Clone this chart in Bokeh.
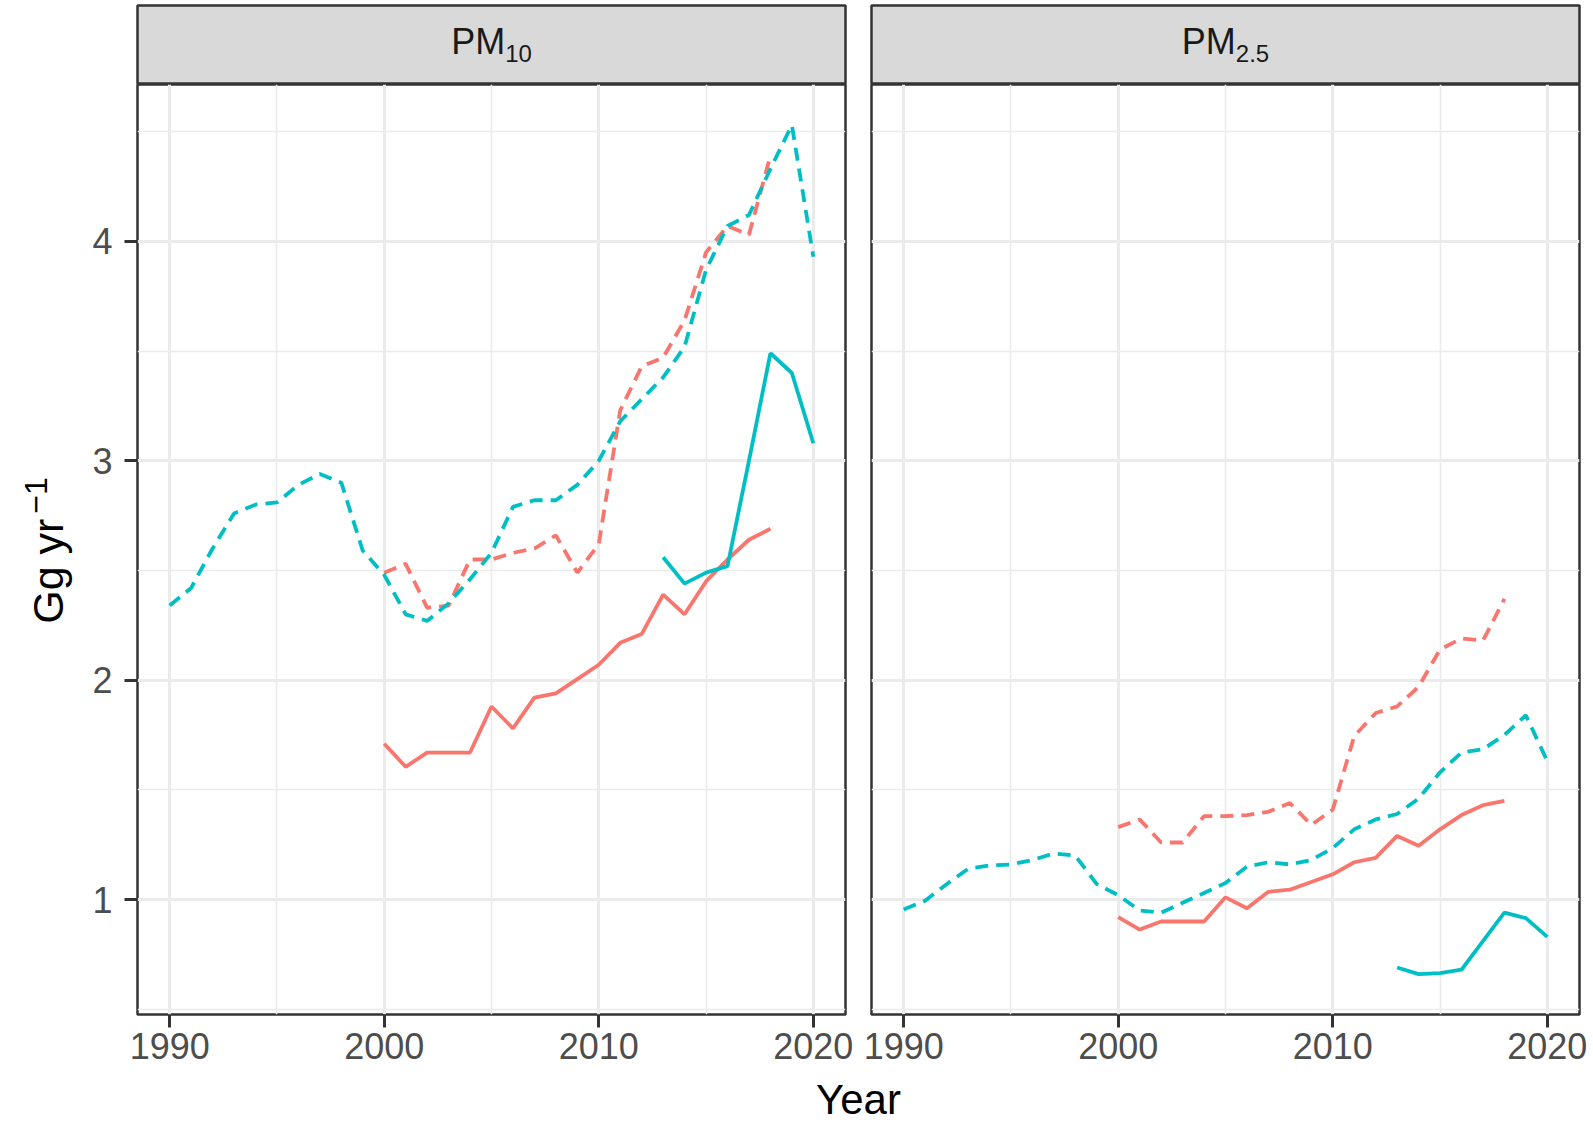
import math
from bokeh.plotting import figure
from bokeh.layouts import row, column
from bokeh.models import Range1d, FixedTicker
from bokeh.embed import file_html
from bokeh.resources import INLINE
from bokeh.core.properties import value

# ---------------- data ----------------
years_full = list(range(1990, 2021))
years_mid = list(range(2000, 2019))
years_late = list(range(2013, 2021))

pm10_teal_dashed = [2.34, 2.42, 2.60, 2.76, 2.80, 2.81, 2.89, 2.94, 2.90, 2.59,
                    2.48, 2.30, 2.27, 2.35, 2.46, 2.58, 2.79, 2.82, 2.82, 2.89,
                    3.00, 3.18, 3.28, 3.38, 3.52, 3.87, 4.07, 4.12, 4.33, 4.53, 3.93]
pm10_red_dashed = [2.49, 2.53, 2.33, 2.34, 2.55, 2.55, 2.58, 2.60, 2.66, 2.49,
                   2.62, 3.23, 3.43, 3.47, 3.64, 3.95, 4.07, 4.03, 4.39]
pm10_red_solid = [1.71, 1.605, 1.67, 1.67, 1.67, 1.88, 1.78, 1.92, 1.94, 2.005,
                  2.07, 2.17, 2.21, 2.39, 2.30, 2.45, 2.55, 2.64, 2.69]
pm10_teal_solid = [2.56, 2.44, 2.49, 2.52, 3.00, 3.49, 3.40, 3.08]

pm25_teal_dashed = [0.955, 0.995, 1.07, 1.14, 1.155, 1.16, 1.18, 1.21, 1.20, 1.07,
                    1.02, 0.95, 0.94, 0.985, 1.03, 1.075, 1.15, 1.17, 1.16, 1.18,
                    1.235, 1.32, 1.365, 1.39, 1.46, 1.58, 1.67, 1.685, 1.75, 1.84, 1.63]
pm25_red_dashed = [1.33, 1.365, 1.26, 1.26, 1.38, 1.38, 1.385, 1.40, 1.44, 1.34,
                   1.41, 1.745, 1.85, 1.88, 1.97, 2.14, 2.19, 2.18, 2.37]
pm25_red_solid = [0.92, 0.863, 0.90, 0.90, 0.90, 1.01, 0.96, 1.035, 1.045, 1.08,
                  1.115, 1.17, 1.19, 1.29, 1.245, 1.32, 1.385, 1.43, 1.45]
pm25_teal_solid = [0.69, 0.66, 0.665, 0.68, 0.81, 0.94, 0.915, 0.83]

x_ticks = [1990, 2000, 2010, 2020]
x_minor = [1995, 2005, 2015]
y_ticks = [1, 2, 3, 4]
y_minor = [0.5, 1.5, 2.5, 3.5, 4.5]

panels = [
    ("PM", "10", pm10_red_dashed, pm10_teal_dashed, pm10_red_solid, pm10_teal_solid),
    ("PM", "2.5", pm25_red_dashed, pm25_teal_dashed, pm25_red_solid, pm25_teal_solid),
]
y_title_main = "Gg yr"
y_title_sup = "\u22121"
x_title = "Year"

# ---------------- style ----------------
FONT = "Liberation Sans"
RED = "#F8766D"
TEAL = "#00BFC4"
FRAME_W = 708
FRAME_H = 930
STRIP_TOP = 5
STRIP_H = 79
PANEL_BOTTOM = 60
LW = 3.8
DASH = "13 8"

LABEL_W = 74
LEFT_L, RIGHT_L = 63, 13
LEFT_R, RIGHT_R = 13, 10
COL_H = STRIP_TOP + STRIP_H + FRAME_H + PANEL_BOTTOM
TOTAL_W = LABEL_W + LEFT_L + FRAME_W + RIGHT_L + LEFT_R + FRAME_W + RIGHT_R
BOT_H = 1124 - COL_H


def make_strip(main, sub, left, right):
    s = figure(frame_width=FRAME_W, frame_height=STRIP_H,
               x_range=Range1d(0, FRAME_W), y_range=Range1d(0, STRIP_H),
               x_axis_type=None, y_axis_type=None,
               output_backend="svg", toolbar_location=None,
               min_border_top=STRIP_TOP, min_border_bottom=0,
               min_border_left=left, min_border_right=right)
    s.grid.visible = False
    s.background_fill_color = "#D9D9D9"
    s.border_fill_color = "white"
    s.outline_line_color = "#333333"
    s.outline_line_width = 2.5
    main_w = 1.5 * 36
    sub_w = sum(0.278 if c == "." else 0.556 for c in sub) * 24
    split = FRAME_W / 2 - (main_w + sub_w) / 2 + main_w
    s.text(x=[split], y=[STRIP_H - 36.3], text=[main], text_align="right",
           text_baseline="middle", text_font=value(FONT),
           text_font_size="36px", text_color="#1A1A1A")
    s.text(x=[split], y=[STRIP_H - 48.3], text=[sub], text_align="left",
           text_baseline="middle", text_font=value(FONT),
           text_font_size="24px", text_color="#1A1A1A")
    return s


def make_panel(red_d, teal_d, red_s, teal_s, left, right, show_y):
    p = figure(frame_width=FRAME_W, frame_height=FRAME_H,
               x_range=Range1d(1988.5, 2021.5), y_range=Range1d(0.476, 4.715),
               output_backend="svg", toolbar_location=None,
               min_border_top=0, min_border_bottom=PANEL_BOTTOM,
               min_border_left=left, min_border_right=right)
    p.background_fill_color = "white"
    p.border_fill_color = "white"
    p.outline_line_color = "#333333"
    p.outline_line_width = 2.5

    p.xaxis.ticker = FixedTicker(ticks=x_ticks, minor_ticks=x_minor)
    p.yaxis.ticker = FixedTicker(ticks=y_ticks, minor_ticks=y_minor)
    p.grid.grid_line_color = "#EBEBEB"
    p.grid.grid_line_width = 3
    p.grid.minor_grid_line_color = "#EBEBEB"
    p.grid.minor_grid_line_width = 1.6

    for ax in p.axis:
        ax.axis_line_color = None
        ax.major_tick_line_color = "#333333"
        ax.major_tick_line_width = 3
        ax.major_tick_out = 13
        ax.major_tick_in = 0
        ax.minor_tick_line_color = None
        ax.major_label_text_font = FONT
        ax.major_label_text_font_size = "36px"
        ax.major_label_text_color = "#4D4D4D"
    p.xaxis.major_label_standoff = 5
    p.yaxis.major_label_standoff = 12

    if not show_y:
        p.yaxis.visible = False

    p.line(years_mid, red_d, line_color=RED, line_width=LW, line_dash=DASH, line_cap="butt")
    p.line(years_full, teal_d, line_color=TEAL, line_width=LW, line_dash=DASH, line_cap="butt")
    p.line(years_mid, red_s, line_color=RED, line_width=LW)
    p.line(years_late, teal_s, line_color=TEAL, line_width=LW)
    return p


# y-axis title column (rotated text with superscript)
lab = figure(frame_width=LABEL_W, frame_height=COL_H,
             x_range=Range1d(0, LABEL_W), y_range=Range1d(0, COL_H),
             x_axis_type=None, y_axis_type=None,
             output_backend="svg", toolbar_location=None, min_border=0)
lab.grid.visible = False
lab.outline_line_color = None
lab.background_fill_color = "white"
lab.border_fill_color = "white"
main_len = 2.445 * 43
sup_len = 1.14 * 32
gap = 5
total_len = main_len + gap + sup_len
center_page_y = 550
start_page_y = center_page_y + total_len / 2
lab.text(x=[47], y=[COL_H - start_page_y], text=[y_title_main], angle=math.pi / 2,
         text_align="left", text_baseline="middle", text_font=value(FONT),
         text_font_size="43px", text_color="black")
lab.text(x=[35], y=[COL_H - (start_page_y - main_len - gap)], text=[y_title_sup],
         angle=math.pi / 2, text_align="left", text_baseline="middle",
         text_font=value(FONT), text_font_size="32px", text_color="black")

sL = make_strip(panels[0][0], panels[0][1], LEFT_L, RIGHT_L)
pL = make_panel(*panels[0][2:], LEFT_L, RIGHT_L, True)
sR = make_strip(panels[1][0], panels[1][1], LEFT_R, RIGHT_R)
pR = make_panel(*panels[1][2:], LEFT_R, RIGHT_R, False)

b = figure(frame_width=TOTAL_W, frame_height=BOT_H,
           x_range=Range1d(0, TOTAL_W), y_range=Range1d(0, BOT_H),
           x_axis_type=None, y_axis_type=None,
           output_backend="svg", toolbar_location=None, min_border=0)
b.grid.visible = False
b.outline_line_color = None
b.background_fill_color = "white"
b.border_fill_color = "white"
center_x = LABEL_W + LEFT_L + (FRAME_W * 2 + RIGHT_L + LEFT_R) / 2
b.text(x=[center_x], y=[BOT_H / 2], text=[x_title], text_align="center",
       text_baseline="middle", text_font=value(FONT),
       text_font_size="42px", text_color="black")

layout = column(
    row(lab, column(sL, pL, spacing=0), column(sR, pR, spacing=0), spacing=0),
    b, spacing=0)

open("out.html", "w").write(file_html(layout, INLINE))
